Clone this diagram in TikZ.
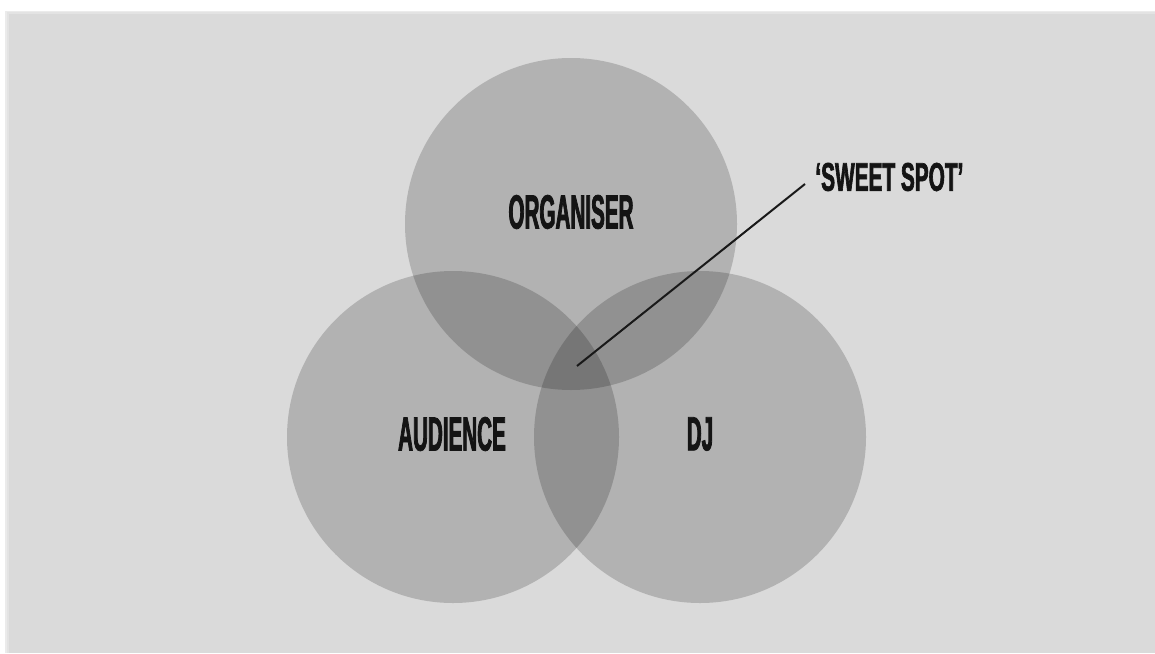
\documentclass[tikz,border=0pt]{standalone}
\usepackage{fontspec}
\newfontfamily\labfont[FakeStretch=0.43,FakeBold=1.6]{Liberation Sans}
\newfontfamily\sweetfont[FakeStretch=0.52,FakeBold=1.6]{Liberation Sans}
\tikzset{
  venn/.style={circle, minimum size=166pt, inner sep=0pt, fill=black, fill opacity=0.18, draw=none},
  lab/.style={font=\labfont\bfseries\fontsize{24}{24}\selectfont, text=black!92, inner sep=0pt},
  leader/.style={line width=1pt, draw=black!90}
}
\begin{document}
\begin{tikzpicture}[x=0.5pt,y=-0.5pt]
\useasboundingbox (0,0) rectangle (1155,653);
\fill[white] (0,0) rectangle (1155,653);
% shadow and panel
\fill[black!8] (5,11) rectangle (1155,653);
\fill[black!11] (7,12) rectangle (1155,653);
\fill[fill={rgb,255:red,218;green,218;blue,218}] (9,14) rectangle (1155,653);
% circles
\node[venn] (org) at (571,224) {};
\node[venn] (aud) at (453,437) {};
\node[venn] (dj)  at (700,437) {};
% labels
\node[lab] (orgl) at (571,212) {ORGANISER};
\node[lab] (audl) at (452,434) {AUDIENCE};
\node[lab] (djl)  at (700,434) {DJ};
\node[lab, anchor=west, font=\sweetfont\bfseries\fontsize{20}{20}\selectfont] (sweet) at (815,177) {‘SWEET SPOT’};
% leader line
\coordinate (spot) at (577,366);
\coordinate (tip) at (805,184);
\draw[leader] (spot) -- (tip);
\end{tikzpicture}
\end{document}
